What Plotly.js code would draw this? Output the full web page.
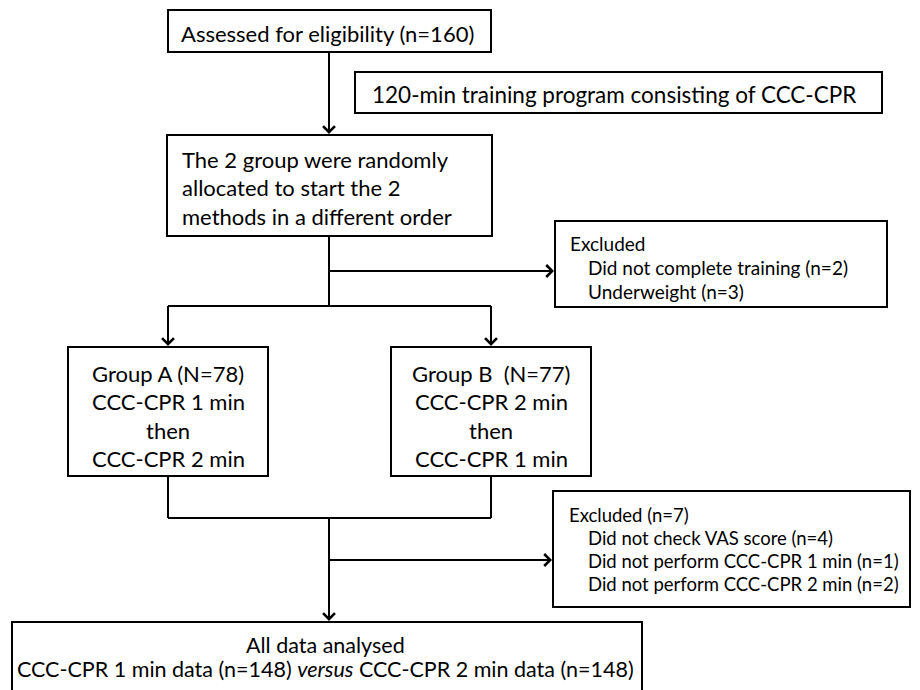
<!DOCTYPE html>
<html>
<head>
<meta charset="utf-8">
<script src="https://cdn.plot.ly/plotly-3.0.1.min.js"></script>
<style>html,body{margin:0;padding:0;background:#fff;}#chart{width:920px;height:690px;}</style>
</head>
<body>
<div id="chart"></div>
<script>
// ---- content (texts of the flow diagram) ----
const screeningLines = ['Assessed for eligibility (n=160)'];
const trainingLines = ['120-min training program consisting of CCC-CPR'];
const allocationLines = ['The 2 group were randomly', 'allocated to start the 2', 'methods in a different order'];
const excluded1Lines = ['Excluded', 'Did not complete training (n=2)', 'Underweight (n=3)'];
const groupALines = ['Group A (N=78)', 'CCC-CPR 1 min', 'then', 'CCC-CPR 2 min'];
const groupBLines = ['Group B  (N=77)', 'CCC-CPR 2 min', 'then', 'CCC-CPR 1 min'];
const excluded2Lines = ['Excluded (n=7)', 'Did not check VAS score (n=4)', 'Did not perform CCC-CPR 1 min (n=1)', 'Did not perform CCC-CPR 2 min (n=2)'];
const analysisLines = ['All data analysed', 'CCC-CPR 1 min data (n=148) <i>versus</i> CCC-CPR 2 min data (n=148)'];

// ---- geometry (layout of the diagram, in pixel-like data units) ----
const boxes = [
  {id:'screen', x0:168, y0:10, x1:491, y1:52, lines:screeningLines, align:'left', tx:179, ty0:33, dy:0, size:22},
  {id:'train', x0:355, y0:72, x1:882, y1:113, lines:trainingLines, align:'left', tx:370, ty0:94, dy:0, size:22.5},
  {id:'alloc', x0:167, y0:135, x1:492, y1:236, lines:allocationLines, align:'left', tx:180, ty0:159, dy:28.5, size:22},
  {id:'exc1', x0:555, y0:221, x1:887, y1:307, lines:excluded1Lines, align:'left', tx:568, ty0:243, dy:24, size:19, indent:18},
  {id:'grpA', x0:68, y0:347, x1:268, y1:476, lines:groupALines, align:'center', tx:168, ty0:373, dy:28.5, size:22},
  {id:'grpB', x0:391, y0:347, x1:591, y1:476, lines:groupBLines, align:'center', tx:491, ty0:373, dy:28.5, size:22},
  {id:'exc2', x0:553, y0:491, x1:910, y1:607, lines:excluded2Lines, align:'left', tx:567, ty0:515, dy:23, size:18.5, indent:19},
  {id:'anal', x0:12, y0:622, x1:642, y1:720, lines:analysisLines, align:'center', tx:325, ty0:645, dy:23.5, size:21.5}
];
const connectors = [
  [[329,52],[329,118]],
  [[329,236],[329,306]],
  [[168,306],[491,306]],
  [[168,306],[168,330]],
  [[491,306],[491,330]],
  [[329,271],[540,271]],
  [[168,476],[168,518]],
  [[491,476],[491,518]],
  [[168,518],[491,518]],
  [[329,518],[329,605]],
  [[329,560],[538,560]]
];
const arrows = [ // [tipX, tipY, tailX, tailY]
  [329,134,329,100],
  [168,346,168,320],
  [491,346,491,320],
  [554,271,520,271],
  [329,621,329,590],
  [552,560,520,560]
];

const FONT = 'Lato, "Open Sans", sans-serif';
const shapes = [];
const annotations = [];
boxes.forEach(b => {
  shapes.push({type:'rect', xref:'x', yref:'y', x0:b.x0, y0:b.y0, x1:b.x1, y1:b.y1,
    line:{color:'#000', width:2}, fillcolor:'rgba(0,0,0,0)'});
  b.lines.forEach((t, i) => {
    const ind = (b.indent && i > 0) ? b.indent : 0;
    annotations.push({x: b.tx + ind, y: b.ty0 + i*b.dy, xref:'x', yref:'y', text:t, showarrow:false,
      xanchor: b.align === 'left' ? 'left' : 'center', yanchor:'middle', align:b.align,
      font:{family:FONT, size:b.size, color:'#000'}});
  });
});
connectors.forEach(c => {
  shapes.push({type:'line', xref:'x', yref:'y', x0:c[0][0], y0:c[0][1], x1:c[1][0], y1:c[1][1],
    line:{color:'#000', width:2}});
});
arrows.forEach(a => {
  annotations.push({x:a[0], y:a[1], ax:a[2], ay:a[3], xref:'x', yref:'y', axref:'x', ayref:'y',
    text:'', showarrow:true, arrowhead:4, arrowsize:1.15, arrowwidth:2, arrowcolor:'#000', standoff:0});
});

Plotly.newPlot('chart', [], {
  width:920, height:690,
  margin:{l:0, r:0, t:0, b:0},
  paper_bgcolor:'#fff', plot_bgcolor:'#fff',
  xaxis:{range:[0,920], visible:false, fixedrange:true},
  yaxis:{range:[690,0], visible:false, fixedrange:true},
  shapes:shapes, annotations:annotations, showlegend:false
}, {staticPlot:true});
</script>
</body>
</html>
